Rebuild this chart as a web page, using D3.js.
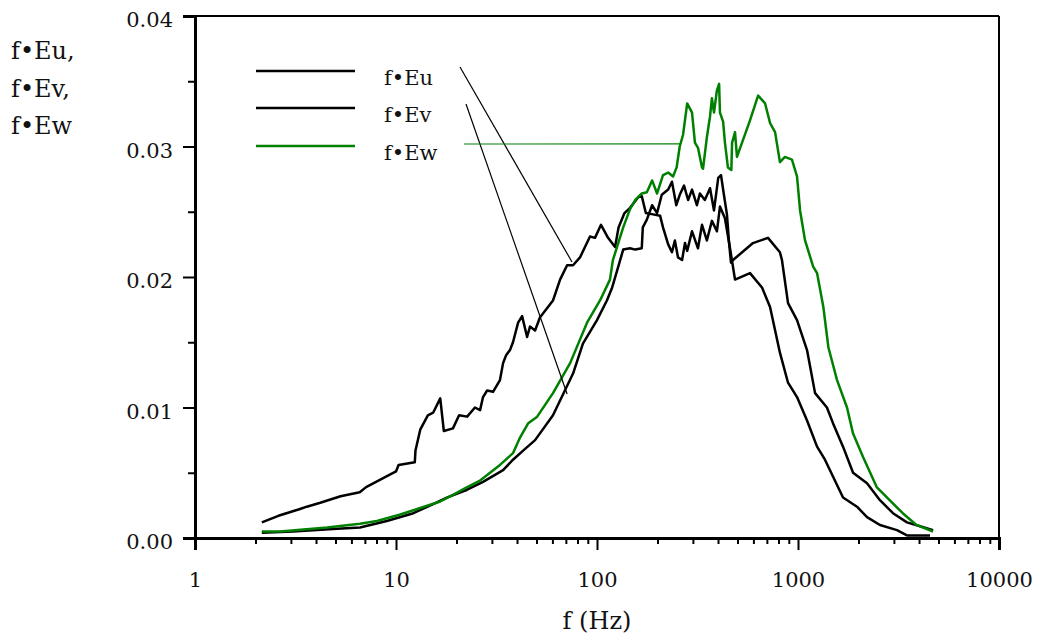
<!DOCTYPE html>
<html>
<head>
<meta charset="utf-8">
<script src="https://cdn.jsdelivr.net/npm/d3@7"></script>
<style>
  body { margin: 0; background: #fff; }
  svg { display: block; font-family: "DejaVu Serif", serif; }
  .data-line { fill: none; stroke-width: 2.5; stroke-linejoin: round; }
</style>
</head>
<body>
<svg id="chart" width="1042" height="639"></svg>
<script>
// ===================================
// Spectra f*E(f)
// ===================================

// [frequency (Hz), f*E]
const EU = [
  [2.15,0.0012],[2.6,0.0017],[3.3,0.0022],[3.6,0.0024],[4.2,0.0027],[5.3,0.0032],[6.6,0.0035],
  [7.1,0.0039],[10.0,0.0051],[10.3,0.0056],[12.4,0.0058],[12.5,0.0067],[13.2,0.0083],[14.4,0.0094],
  [15.3,0.0096],[16.6,0.0107],[17.3,0.0082],[19.2,0.0084],[20.6,0.0094],[22.6,0.0093],[24.7,0.0100],
  [26.2,0.0098],[27.1,0.0108],[28.4,0.0113],[30.4,0.0112],[32.9,0.0121],[34.1,0.0134],[35.3,0.0140],
  [36.9,0.0144],[38.2,0.0150],[40.5,0.0165],[42.4,0.0170],[44.9,0.0154],[46.4,0.0162],[49.2,0.0159],
  [52.0,0.0169],[60.4,0.0182],[65.5,0.0198],[71.0,0.0209],[76.0,0.0209],[82.3,0.0215],[92.3,0.0231],
  [97.7,0.0230],[104.7,0.0240],[113.5,0.0230],[123,0.0223],[128,0.0238],[137,0.0249],[146,0.0253],
  [160,0.0261],[167,0.0262],[175,0.0249],[190,0.0248],[206,0.0247],[213,0.0238],[226,0.0225],
  [236,0.0219],[244,0.0228],[253,0.0215],[265,0.0213],[274,0.0226],[281,0.0220],[297,0.0235],
  [318,0.0222],[333,0.0240],[352,0.0228],[373,0.0243],[395,0.0235],[409,0.0254],[433,0.0245],
  [459,0.0222],[486,0.0198],[577,0.0203],[662,0.0192],[726,0.0177],[813,0.0142],[892,0.0119],
  [989,0.0108],[1109,0.0090],[1244,0.0070],[1362,0.0060],[1675,0.0031],[1966,0.0024],[2205,0.0016],
  [2557,0.0010],[3108,0.0006],[3485,0.0002],[4537,0.0002]
];

const EV = [
  [2.15,0.0004],[3.07,0.0005],[5.1,0.0007],[6.62,0.0008],[9.0,0.0013],[12.2,0.0019],[15.3,0.0026],
  [17.9,0.0031],[22.6,0.0037],[27.1,0.0043],[34.1,0.0052],[38.2,0.0060],[42.9,0.0067],[49.2,0.0075],
  [60.4,0.0094],[76.0,0.0126],[85.1,0.0149],[100,0.0167],[112,0.0182],[119,0.0192],[126,0.0205],
  [135,0.0221],[146,0.0222],[155,0.0221],[167,0.0222],[169,0.0238],[177,0.0244],[188,0.0255],
  [199,0.0249],[210,0.0263],[226,0.0267],[236,0.0273],[248,0.0255],[258,0.0263],[271,0.0270],
  [284,0.0259],[297,0.0267],[314,0.0255],[325,0.0264],[344,0.0259],[365,0.0268],[382,0.0251],
  [401,0.0276],[414,0.0278],[428,0.0263],[443,0.0248],[453,0.0228],[464,0.0211],[475,0.0213],
  [597,0.0226],[709,0.0230],[813,0.0219],[832,0.0213],[892,0.0180],[989,0.0167],[1109,0.0144],
  [1216,0.0111],[1393,0.0100],[1493,0.0088],[1675,0.0070],[1879,0.0050],[2205,0.0042],[2557,0.0029],
  [2969,0.0019],[3485,0.0012],[4046,0.0009],[4699,0.0006]
];

const EW = [
  [2.15,0.0005],[2.65,0.0005],[3.14,0.0006],[4.54,0.0008],[6.62,0.0011],[8.04,0.0013],[10.5,0.0018],
  [13.2,0.0023],[16.6,0.0028],[19.2,0.0033],[22.6,0.0039],[26.2,0.0044],[32.9,0.0056],[38.2,0.0065],
  [41.4,0.0077],[45.5,0.0088],[50.4,0.0093],[60.4,0.0111],[73.5,0.0134],[89.2,0.0165],[103.5,0.0182],
  [116,0.0198],[120,0.0213],[135,0.0238],[146,0.0252],[155,0.0259],[167,0.0264],[177,0.0265],
  [188,0.0274],[199,0.0264],[213,0.0278],[226,0.0280],[239,0.0277],[249,0.0284],[258,0.0300],
  [268,0.0309],[281,0.0333],[297,0.0326],[307,0.0303],[318,0.0299],[333,0.0284],[337,0.0283],
  [352,0.0307],[365,0.0323],[373,0.0337],[382,0.0326],[395,0.0343],[405,0.0348],[409,0.0326],
  [424,0.0319],[433,0.0303],[448,0.0284],[466,0.0282],[470,0.0303],[486,0.0311],[497,0.0292],
  [577,0.0320],[633,0.0339],[686,0.0333],[726,0.0318],[769,0.0311],[813,0.0288],[861,0.0292],
  [933,0.0290],[989,0.0277],[1024,0.0251],[1084,0.0228],[1190,0.0208],[1244,0.0203],[1337,0.0177],
  [1417,0.0146],[1564,0.0121],[1753,0.0100],[1879,0.0080],[2107,0.0062],[2463,0.0039],[2856,0.0029],
  [3320,0.0019],[3885,0.0010],[4699,0.0005]
];

// Legend labels, colours and where each leader line lands (Hz, f*E)
const SERIES_NAMES = ['f\u2022Eu', 'f\u2022Ev', 'f\u2022Ew'];
const SERIES_COLORS = ['#000000', '#000000', '#008000'];
const LEADER_TARGETS = [[75.1, 0.02115], [71.0, 0.01103], [259, 0.0302]];

// Axes
const X_MAJOR = [1, 10, 100, 1000, 10000];
const Y_MAJOR = [0, 0.01, 0.02, 0.03, 0.04];
const Y_TITLE = ['f\u2022Eu,', 'f\u2022Ev,', 'f\u2022Ew'];
const X_TITLE = 'f (Hz)';

// ===================================
// Layout
// ===================================

const svg = d3.select('#chart');
const plotLeft = 195, plotRight = 999, plotTop = 16, plotBottom = 538;

const x = d3.scaleLog().domain([1, 10000]).range([plotLeft, plotRight]);
const y = d3.scaleLinear().domain([0, 0.04]).range([plotBottom, plotTop]);

// minor ticks 2..9 per decade, 0.005 steps on y
const xMinor = [];
for (let d = 1; d < 10000; d *= 10) {
    for (let k = 2; k <= 9; k++) xMinor.push(d * k);
}
const yMinor = [0.005, 0.015, 0.025, 0.035];

// frame: top and right borders
svg.append('line')
    .attr('x1', plotLeft).attr('x2', plotRight).attr('y1', plotTop).attr('y2', plotTop)
    .attr('stroke', '#000').attr('stroke-width', 2);
svg.append('line')
    .attr('x1', plotRight).attr('x2', plotRight).attr('y1', plotTop).attr('y2', plotBottom)
    .attr('stroke', '#000').attr('stroke-width', 2);

// bottom axis
const gx = svg.append('g').attr('transform', `translate(0,${plotBottom})`);
gx.call(d3.axisBottom(x).tickValues(xMinor).tickSize(6).tickFormat(''));
gx.append('g').call(d3.axisBottom(x).tickValues(X_MAJOR).tickSize(12).tickFormat(d3.format('d')));
gx.selectAll('.domain').attr('stroke-width', 3);
gx.selectAll('.tick line').attr('stroke-width', 2);
gx.selectAll('.tick text')
    .attr('y', 49).attr('dy', null)
    .attr('font-size', 21).attr('font-family', '"DejaVu Serif", serif').attr('fill', '#111');

// left axis
const gy = svg.append('g').attr('transform', `translate(${plotLeft},0)`);
gy.call(d3.axisLeft(y).tickValues(yMinor).tickSize(7).tickFormat(''));
gy.append('g').call(d3.axisLeft(y).tickValues(Y_MAJOR).tickSize(12).tickPadding(10).tickFormat(d3.format('.2f')));
gy.selectAll('.domain').attr('stroke-width', 3);
gy.selectAll('.tick line').attr('stroke-width', 2);
gy.selectAll('.tick text')
    .attr('dy', '0.5em')
    .attr('font-size', 21).attr('font-family', '"DejaVu Serif", serif').attr('fill', '#111');

// axis titles
svg.append('text')
    .attr('x', 597).attr('y', 629)
    .attr('text-anchor', 'middle')
    .attr('font-size', 24).attr('fill', '#111')
    .text(X_TITLE);

svg.append('g').selectAll('text')
    .data(Y_TITLE)
    .join('text')
    .attr('x', 11)
    .attr('y', (d, i) => 59 + i * 37.5)
    .attr('font-size', 24).attr('fill', '#111')
    .text(d => d);

// ===================================
// Curves
// ===================================

const line = d3.line()
    .x(d => x(d[0]))
    .y(d => y(d[1]));

const plot = svg.append('g');
[EU, EV, EW].forEach((series, i) => {
    plot.append('path')
        .datum(series)
        .attr('class', 'data-line')
        .attr('stroke', SERIES_COLORS[i])
        .attr('d', line);
});

// ===================================
// Legend with leader lines
// ===================================

const legendY = [71, 108, 146];
const legend = svg.append('g');

SERIES_NAMES.forEach((name, i) => {
    legend.append('line')
        .attr('x1', 256).attr('x2', 355)
        .attr('y1', legendY[i]).attr('y2', legendY[i])
        .attr('stroke', SERIES_COLORS[i]).attr('stroke-width', 2.5);

    legend.append('text')
        .attr('x', 384).attr('y', legendY[i] + 14)
        .attr('font-size', 21).attr('fill', '#111')
        .text(name);

    // leader from label to its curve
    const startX = i === 2 ? 464 : (i === 0 ? 460 : 466);
    const startY = i === 2 ? legendY[i] - 2 : legendY[i] - 4;
    legend.append('line')
        .attr('x1', startX).attr('y1', startY)
        .attr('x2', x(LEADER_TARGETS[i][0]))
        .attr('y2', y(LEADER_TARGETS[i][1]))
        .attr('stroke', SERIES_COLORS[i]).attr('stroke-width', 1.2);
});
</script>
</body>
</html>
